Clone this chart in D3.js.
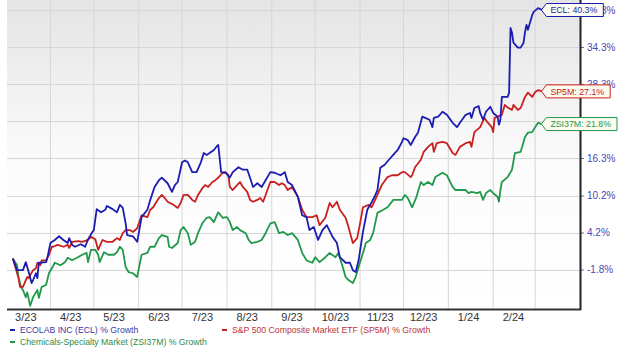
<!DOCTYPE html>
<html><head><meta charset="utf-8">
<script src="https://cdn.jsdelivr.net/npm/d3@7/dist/d3.min.js"></script>
<style>
html,body{margin:0;padding:0;background:#fff;}
svg{display:block;font-family:Arial,"Liberation Sans",sans-serif;}
</style></head>
<body><svg id="c" width="620" height="351"></svg>
<script>
// ---------- DATA ----------
const startDate = "2023-03-06";               // day 0 of every series
const yTicks = [-1.8, 4.2, 10.2, 16.3, 22.3, 28.3, 34.3, 40.3];
const monthLabels = ["3/23","4/23","5/23","6/23","7/23","8/23","9/23","10/23","11/23","12/23","1/24","2/24"];
const seriesNames = ["ECL","SP5M","ZSI37M"];
const legendLabels = ["ECOLAB INC (ECL) % Growth","S&P 500 Composite Market ETF (SP5M) % Growth","Chemicals-Specialty Market (ZSI37M) % Growth"];
// [day offset from startDate, % growth]
const eclData = [[0,0],[3,-1.9],[7,-1.9],[9,-0.6],[11,-2.2],[13,-4.0],[14,-3.5],[16,-2.4],[17,-3.2],[18,-0.7],[23,-0.6],[24,0.2],[26,2.5],[29,3.0],[32,3.6],[35,3.0],[38,2.5],[39,3.3],[41,2.2],[43,1.9],[47,2.3],[50,1.9],[52,3.1],[55,4.3],[56,4.6],[58,8.0],[61,7.5],[64,7.9],[65,8.5],[69,8.0],[72,7.5],[74,8.7],[76,8.2],[78,5.7],[79,3.8],[83,3.6],[86,2.7],[89,6.7],[93,7.9],[95,9.5],[98,11.6],[101,12.7],[103,13.1],[107,12.2],[110,10.8],[112,11.9],[114,12.4],[117,15.6],[119,15.9],[121,15.6],[124,14.0],[127,14.0],[130,15.6],[132,17.1],[134,16.8],[136,17.1],[139,17.6],[141,18.2],[142,18.4],[144,14.0],[147,13.9],[150,13.1],[152,14.0],[156,14.8],[159,14.4],[162,14.4],[164,13.1],[166,11.6],[169,12.2],[172,11.6],[174,12.4],[178,14.0],[181,13.9],[185,13.5],[188,14.0],[190,12.4],[193,11.9],[197,10.0],[200,7.0],[203,6.7],[205,4.6],[208,5.1],[211,3.0],[214,4.6],[217,5.4],[221,3.5],[224,2.5],[226,0.2],[230,-0.7],[233,-0.7],[235,-1.9],[237,-2.2],[239,-0.3],[242,4.3],[245,7.9],[247,8.7],[250,10.0],[252,11.1],[254,14.7],[257,15.2],[261,16.3],[264,17.1],[266,17.6],[269,18.9],[270,19.5],[273,19.2],[275,18.4],[278,19.7],[280,20.4],[283,23.0],[285,22.8],[288,22.5],[290,21.3],[291,22.8],[294,23.0],[297,23.8],[300,23.3],[304,22.0],[307,21.3],[309,22.0],[313,23.3],[316,23.6],[317,22.8],[319,24.4],[322,24.7],[323,23.6],[325,22.5],[327,23.8],[330,24.6],[332,23.6],[335,23.0],[336,21.7],[337,22.5],[338,26.2],[342,26.2],[343,26.9],[344,37.4],[345,36.6],[346,35.0],[349,34.2],[351,34.2],[353,35.0],[354,36.7],[355,37.9],[356,37.1],[359,39.5],[360,40.0],[363,40.6],[366,40.3]];
const sp5mData = [[0,0],[4,-3.2],[5,-4.6],[7,-4.6],[10,-3.0],[11,-3.2],[14,-1.9],[16,-1.6],[17,-0.7],[19,-1.1],[20,-0.3],[23,-0.3],[25,0.6],[27,1.9],[28,1.9],[31,2.2],[35,1.9],[38,2.2],[39,1.7],[41,2.7],[45,2.8],[48,2.7],[52,3.0],[54,3.5],[57,3.1],[59,1.4],[62,3.0],[65,2.7],[69,2.7],[72,3.3],[74,3.0],[76,4.1],[78,4.6],[81,4.6],[83,4.3],[86,4.9],[89,7.0],[93,6.7],[95,7.9],[97,8.3],[101,9.8],[103,10.3],[105,9.8],[107,9.2],[111,8.7],[114,8.2],[116,9.0],[118,10.3],[121,10.3],[124,9.5],[126,9.2],[128,10.3],[131,11.4],[133,11.9],[135,11.6],[138,12.4],[140,12.7],[142,13.1],[145,13.9],[147,14.0],[149,13.5],[150,11.6],[152,11.1],[155,11.9],[157,12.4],[159,11.6],[162,10.8],[164,9.5],[166,9.2],[169,9.5],[171,9.8],[173,9.2],[176,11.1],[178,12.4],[181,12.4],[184,11.9],[186,12.2],[188,11.9],[190,11.1],[193,11.6],[197,10.0],[200,7.9],[203,6.7],[207,6.7],[210,7.0],[212,5.4],[216,6.6],[219,9.0],[221,8.3],[224,9.2],[226,7.9],[230,6.6],[232,5.1],[235,2.5],[238,3.3],[240,5.7],[242,8.3],[246,8.7],[248,8.3],[252,10.3],[255,11.9],[259,13.2],[262,13.5],[266,13.5],[269,14.0],[271,14.0],[275,13.2],[276,13.5],[278,14.8],[282,16.0],[284,17.3],[287,18.1],[290,18.7],[291,17.3],[293,18.7],[297,18.9],[300,18.7],[304,17.1],[306,16.8],[309,18.1],[313,18.7],[316,18.9],[317,18.1],[319,20.5],[323,21.3],[326,22.8],[328,22.1],[331,21.3],[332,20.5],[333,22.8],[335,23.0],[338,23.3],[340,24.9],[342,24.5],[345,24.1],[346,24.9],[349,24.1],[351,24.4],[354,26.2],[356,26.9],[359,26.2],[361,27.0],[363,27.3],[366,27.1]];
const zsiData = [[0,0],[3,-1.1],[4,-3.2],[6,-4.8],[7,-5.1],[9,-6.3],[10,-5.5],[12,-7.7],[14,-6.3],[17,-5.1],[18,-6.4],[20,-4.6],[23,-4.3],[25,-2.4],[27,-1.6],[29,-0.7],[33,-1.1],[36,-0.6],[38,0.1],[41,-0.3],[45,0.2],[48,0.6],[51,0.9],[52,-0.6],[54,1.4],[57,1.4],[59,0.6],[60,-0.6],[63,1.0],[66,0.6],[70,0.6],[72,1.0],[74,1.9],[76,1.4],[78,-1.4],[80,-2.2],[83,-2.4],[86,-3.0],[89,0.6],[93,0.9],[95,1.9],[98,1.9],[101,3.3],[103,3.8],[107,3.5],[108,1.9],[110,1.7],[114,2.5],[116,4.6],[118,5.1],[121,4.1],[123,2.2],[126,2.7],[128,4.1],[131,5.7],[134,6.6],[136,6.7],[139,5.9],[141,7.0],[142,7.5],[145,6.6],[148,6.7],[150,5.9],[152,4.6],[155,5.1],[157,4.6],[161,4.1],[163,3.0],[165,2.5],[169,2.7],[172,3.0],[174,3.8],[178,5.7],[181,5.9],[184,4.1],[187,4.3],[190,3.8],[193,4.1],[197,3.0],[200,0.9],[203,-0.3],[207,-0.7],[209,0.2],[212,-0.6],[216,0.2],[219,0.9],[223,0.2],[225,0.9],[228,-1.4],[230,-3.0],[232,-3.5],[235,-4.0],[237,-3.0],[239,-1.4],[242,0.9],[244,2.5],[247,3.0],[249,4.1],[252,7.4],[256,7.9],[259,8.3],[263,9.5],[266,9.5],[269,9.5],[271,10.3],[273,9.8],[276,8.3],[279,10.0],[282,12.4],[284,11.9],[287,12.4],[290,11.9],[292,13.2],[297,13.9],[300,13.5],[304,11.6],[306,11.1],[309,11.1],[313,11.1],[315,10.6],[317,10.8],[321,10.6],[323,10.8],[325,9.5],[327,10.6],[330,11.1],[332,10.6],[335,10.0],[336,9.2],[337,11.1],[338,12.4],[342,13.2],[345,14.4],[347,17.1],[351,17.3],[354,19.7],[356,20.4],[359,20.5],[361,21.3],[363,22.0],[366,21.8]];

// ---------- STYLE / LAYOUT ----------
const colors = {ECL:"#1c1cb0", SP5M:"#c8201e", ZSI37M:"#22994a"};
const legendColors = {ECL:"#3a3aa8", SP5M:"#c03434", ZSI37M:"#2c8c4c"};
const plot = {left:7, right:580, top:0, bottom:309};

const svg = d3.select("#c");
const parse = d3.timeParse("%Y-%m-%d");
const day0 = parse(startDate);
const toDate = d => d3.timeDay.offset(day0, d);

const x = d3.scaleTime().domain([new Date(2023,2,2), new Date(2024,3,1)]).range([plot.left, plot.right]);
const y = d3.scaleLinear().domain([-8.2, 41.6]).range([plot.bottom, 2]);

// background gradient
const defs = svg.append("defs");
const grad = defs.append("linearGradient").attr("id","bg").attr("x1",0).attr("y1",0).attr("x2",0).attr("y2",1);
grad.append("stop").attr("offset","0%").attr("stop-color","#e4e4e4");
grad.append("stop").attr("offset","55%").attr("stop-color","#fcfcfc");
grad.append("stop").attr("offset","100%").attr("stop-color","#ffffff");
svg.append("rect").attr("x",plot.left).attr("y",plot.top).attr("width",plot.right-plot.left).attr("height",plot.bottom-plot.top).attr("fill","url(#bg)");

// grid
const months = d3.timeMonth.range(new Date(2023,3,1), new Date(2024,2,2));
svg.append("g").selectAll("line").data(months).join("line")
  .attr("x1",d=>x(d)).attr("x2",d=>x(d)).attr("y1",plot.top).attr("y2",plot.bottom)
  .attr("stroke","#d6d6d6").attr("stroke-width",1);
svg.append("g").selectAll("line").data(yTicks).join("line")
  .attr("x1",plot.left).attr("x2",plot.right).attr("y1",d=>Math.round(y(d))+0.5).attr("y2",d=>Math.round(y(d))+0.5)
  .attr("stroke","#d6d6d6").attr("stroke-width",1);

// right axis
const yAxis = d3.axisRight(y).tickValues(yTicks).tickSize(4).tickPadding(3).tickFormat(d=>d.toFixed(1)+"%");
const ya = svg.append("g").attr("transform",`translate(${plot.right},0)`).call(yAxis);
ya.select(".domain").remove();
ya.selectAll(".tick line").attr("stroke","#6a6ab8");
ya.selectAll(".tick text").attr("fill","#4848b4").style("font-size","10px").style("font-family","Arial, 'Liberation Sans', sans-serif");

// x labels (mid-month)
const labelDates = d3.timeMonth.range(new Date(2023,2,1), new Date(2024,2,1)).map(d=>d3.timeDay.offset(d,14));
svg.append("g").selectAll("text").data(labelDates).join("text")
  .attr("x",d=>x(d)).attr("y",321).attr("text-anchor","middle")
  .attr("fill","#333").style("font-size","11px").text((d,i)=>monthLabels[i]);

// lines
const line = d3.line().x(d=>x(toDate(d[0]))).y(d=>y(d[1]));
const dataSets = {ECL:eclData, SP5M:sp5mData, ZSI37M:zsiData};
["ZSI37M","SP5M","ECL"].forEach(k=>{
  svg.append("path").datum(dataSets[k]).attr("d",line)
    .attr("fill","none").attr("stroke",colors[k]).attr("stroke-width",1.8).attr("stroke-linejoin","round");
});

// axis frame lines
svg.append("line").attr("x1",plot.left).attr("x2",plot.right+1).attr("y1",plot.bottom+0.5).attr("y2",plot.bottom+0.5).attr("stroke","#333").attr("stroke-width",2);
svg.append("line").attr("x1",plot.right+0.5).attr("x2",plot.right+0.5).attr("y1",plot.top).attr("y2",plot.bottom+1).attr("stroke","#222").attr("stroke-width",2);

// end tags
seriesNames.forEach(k=>{
  const ds = dataSets[k];
  const last = ds[ds.length-1];
  const cx = x(toDate(last[0])) - 1, cy = y(last[1]);
  const g = svg.append("g");
  const path = g.append("path");
  const t = g.append("text").attr("x",cx+9).attr("y",cy+3.2).attr("fill",colors[k])
    .style("font-size","8.8px").text(`${k}: ${last[1].toFixed(1)}%`);
  const w = t.node().getComputedTextLength();
  const x0 = cx, x1 = cx + 9 + w + 6, h = 6.5;
  path.attr("d",`M${x0},${cy} L${x0+5},${cy-h} L${x1},${cy-h} L${x1},${cy+h} L${x0+5},${cy+h} Z`)
    .attr("fill","#fbfbef").attr("stroke",colors[k]).attr("stroke-width",1);
});

// legend
const legendPos = [[10,333],[222,333],[10,345]];
seriesNames.forEach((k,i)=>{
  const [lx,ly] = legendPos[i];
  svg.append("line").attr("x1",lx).attr("x2",lx+5).attr("y1",ly-3).attr("y2",ly-3).attr("stroke",colors[k]).attr("stroke-width",2);
  svg.append("text").attr("x",lx+10).attr("y",ly).attr("fill",legendColors[k]).style("font-size","8.7px").text(legendLabels[i]);
});
</script></body></html>
